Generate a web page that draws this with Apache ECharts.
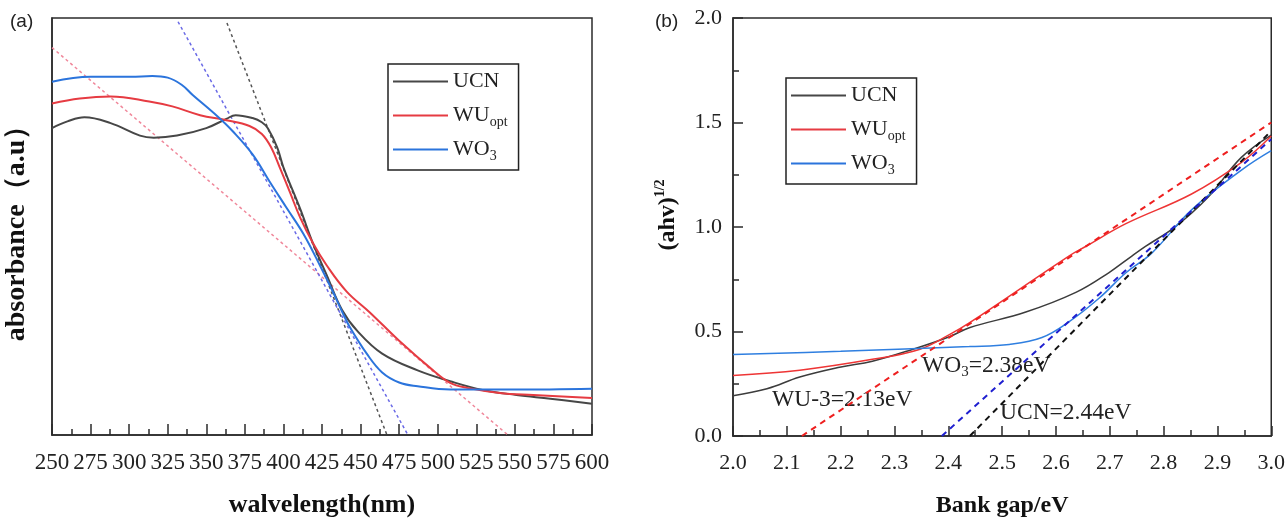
<!DOCTYPE html>
<html>
<head>
<meta charset="utf-8">
<script src="https://cdn.jsdelivr.net/npm/echarts@6.0.0/dist/echarts.min.js"></script>
<style>
  html, body { margin: 0; padding: 0; background: #fff; }
  #chart { width: 1288px; height: 523px; }
</style>
</head>
<body>
<div id="chart"></div>
<script>
// (a) absorbance vs wavelength, arbitrary units 0..1
var absUCN = [[250,0.736],[260,0.752],[271,0.762],[288,0.748],[307,0.718],[316,0.713],[331,0.718],[350,0.736],
  [363,0.758],[369,0.767],[380,0.760],[386,0.750],[390,0.735],[396,0.689],[400,0.642],[411,0.541],[419,0.461],
  [428,0.384],[438,0.300],[448,0.249],[464,0.195],[487,0.155],[508,0.129],[529,0.108],[551,0.096],[573,0.087],
  [600,0.075]];
var absWU = [[250,0.795],[268,0.807],[288,0.812],[313,0.800],[328,0.788],[346,0.767],[363,0.755],[378,0.741],
  [386,0.722],[392,0.690],[398,0.638],[404,0.584],[411,0.520],[419,0.461],[428,0.407],[441,0.344],[456,0.294],
  [475,0.226],[497,0.155],[508,0.125],[519,0.113],[540,0.101],[562,0.096],[600,0.089]];
var absWO3 = [[250,0.847],[275,0.859],[301,0.859],[315,0.861],[325,0.857],[334,0.840],[341,0.816],[357,0.765],
  [367,0.729],[380,0.673],[391,0.608],[402,0.545],[413,0.482],[424,0.404],[432,0.344],[438,0.296],[443,0.259],
  [454,0.195],[464,0.150],[475,0.126],[487,0.117],[508,0.109],[550,0.109],[600,0.111]];
var fitAbsUCN = [[363.4,0.988],[467.1,0]];
var fitAbsWU = [[250,0.929],[545.5,0]];
var fitAbsWO3 = [[331.7,0.991],[480.7,0]];
var wavelengthTicks = [250,275,300,325,350,375,400,425,450,475,500,525,550,575,600];

// (b) Tauc plot
var taucUCN = [[2.0,0.193],[2.063,0.226],[2.124,0.282],[2.198,0.329],[2.259,0.358],[2.333,0.414],[2.402,0.475],
  [2.439,0.518],[2.544,0.593],[2.637,0.687],[2.698,0.781],[2.741,0.861],[2.767,0.908],[2.822,1.002],
  [2.883,1.144],[2.944,1.332],[3.0,1.44]];
var taucWU = [[2.0,0.29],[2.124,0.315],[2.259,0.367],[2.346,0.414],[2.402,0.485],[2.439,0.541],[2.624,0.861],
  [2.656,0.908],[2.730,1.016],[2.852,1.158],[2.944,1.308],[3.0,1.435]];
var taucWO3 = [[2.0,0.39],[2.2,0.405],[2.439,0.428],[2.513,0.438],[2.574,0.471],[2.624,0.546],[2.680,0.659],
  [2.730,0.781],[2.778,0.875],[2.852,1.082],[2.944,1.271],[3.0,1.365]];
var fitTaucUCN = [[2.44,0],[3.0,1.46]];
var fitTaucWU = [[2.128,0],[3.0,1.50]];
var fitTaucWO3 = [[2.388,0],[3.0,1.42]];

var serif = '"Liberation Serif", "Times New Roman", serif';
var axisCol = '#2b2b2b';

var chart = echarts.init(document.getElementById('chart'));

function line(name, data, color, width, idx, dash) {
  return {
    name: name, type: 'line', data: data,
    xAxisIndex: idx, yAxisIndex: idx,
    symbol: 'none',
    smooth: dash ? false : 0.4,
    lineStyle: { color: color, width: width, type: dash || 'solid' },
    itemStyle: { color: color },
    silent: true, animation: false
  };
}

function subName(name) {
  if (name === 'WUopt') return 'WU{sub|opt}';
  if (name === 'WO3') return 'WO{sub|3}';
  return name;
}

var legendBase = {
  orient: 'vertical',
  data: ['UCN', 'WUopt', 'WO3'],
  icon: 'rect', itemWidth: 55, itemHeight: 2, itemGap: 7,
  borderColor: '#222', borderWidth: 1.5, borderRadius: 0,
  padding: [4, 11, 7, 5],
  formatter: subName,
  selectedMode: false,
  textStyle: {
    fontFamily: serif, fontSize: 22, color: '#222', lineHeight: 27,
    rich: { sub: { fontFamily: serif, fontSize: 14, lineHeight: 14, verticalAlign: 'bottom', color: '#222' } }
  }
};

var valueAxisCommon = {
  axisLine: { show: true, onZero: false, lineStyle: { color: axisCol, width: 1.5 } },
  splitLine: { show: false },
  nameTextStyle: { fontFamily: serif, fontSize: 24, fontWeight: 'bold', color: '#111' }
};

var option = {
  backgroundColor: '#fff',
  animation: false,
  grid: [
    { left: 52, top: 18, width: 540, height: 425, show: true, borderColor: axisCol, borderWidth: 1.5 },
    { left: 733, top: 18, width: 540, height: 425, show: true, borderColor: axisCol, borderWidth: 1.5 }
  ],
  legend: [
    Object.assign({}, legendBase, { left: 388, top: 64 }),
    Object.assign({}, legendBase, { left: 786, top: 78 })
  ],
  xAxis: [
    Object.assign({}, valueAxisCommon, {
      type: 'value', gridIndex: 0, min: wavelengthTicks[0], max: wavelengthTicks[wavelengthTicks.length - 1], interval: 25,
      axisTick: { show: true, inside: true, length: 11, lineStyle: { color: axisCol, width: 1.5 } },
      minorTick: { show: true, splitNumber: 2, length: 6, lineStyle: { color: axisCol, width: 1.5 } },
      axisLabel: { margin: 16, fontFamily: serif, fontSize: 23, color: '#222' },
      name: 'walvelength(nm)', nameLocation: 'middle', nameGap: 57,
      nameTextStyle: { fontFamily: serif, fontSize: 26, fontWeight: 'bold', color: '#111' }
    }),
    Object.assign({}, valueAxisCommon, {
      type: 'value', gridIndex: 1, min: 2.0, max: 3.0, interval: 0.1,
      axisTick: { show: true, inside: true, length: 10, lineStyle: { color: axisCol, width: 1.5 } },
      minorTick: { show: true, splitNumber: 2, length: 6, lineStyle: { color: axisCol, width: 1.5 } },
      axisLabel: { margin: 16, fontFamily: serif, fontSize: 22, color: '#222',
        formatter: function (v) { return v.toFixed(1); } },
      name: 'Bank gap/eV', nameLocation: 'middle', nameGap: 58
    })
  ],
  yAxis: [
    Object.assign({}, valueAxisCommon, {
      type: 'value', gridIndex: 0, min: 0, max: 1,
      axisTick: { show: false }, axisLabel: { show: false },
      name: 'absorbance（a.u）', nameLocation: 'middle', nameGap: 21,
      nameTextStyle: { fontFamily: serif, fontSize: 28, fontWeight: 'bold', color: '#111' }
    }),
    Object.assign({}, valueAxisCommon, {
      type: 'value', gridIndex: 1, min: 0, max: 2.0, interval: 0.5,
      axisTick: { show: true, inside: true, length: 10, lineStyle: { color: axisCol, width: 1.5 } },
      minorTick: { show: true, splitNumber: 2, length: 6, lineStyle: { color: axisCol, width: 1.5 } },
      axisLabel: { margin: 11, fontFamily: serif, fontSize: 22, color: '#222',
        formatter: function (v) { return v.toFixed(1); } },
      name: '(ahv){sup|1/2}', nameLocation: 'middle', nameGap: 50,
      nameTextStyle: {
        fontFamily: serif, fontSize: 24, fontWeight: 'bold', color: '#111', lineHeight: 30,
        padding: [0, 0, 0, 24],
        rich: { sup: { fontFamily: serif, fontSize: 14, fontWeight: 'bold', lineHeight: 14, verticalAlign: 'top', color: '#111' } }
      }
    })
  ],
  graphic: [
    { type: 'text', left: 10, top: 12, style: { text: '(a)', font: '19px "Liberation Sans", Arial, sans-serif', fill: '#222' } },
    { type: 'text', left: 655, top: 12, style: { text: '(b)', font: '19px "Liberation Sans", Arial, sans-serif', fill: '#222' } },
    { type: 'text', left: 772, top: 388, style: { text: 'WU-3=2.13eV', fontFamily: serif, fontSize: 23.5, fill: '#222' } },
    { type: 'text', left: 922, top: 352, style: {
        text: 'WO{s|3}=2.38eV', fontFamily: serif, fontSize: 23.5, fill: '#222', lineHeight: 28,
        rich: { s: { fontFamily: serif, fontSize: 15, lineHeight: 15, verticalAlign: 'bottom', fill: '#222' } } } },
    { type: 'text', left: 1000, top: 401, style: { text: 'UCN=2.44eV', fontFamily: serif, fontSize: 23.5, fill: '#222' } }
  ],
  series: [
    line('fitA UCN', fitAbsUCN, '#555555', 1.5, 0, [3, 3]),
    line('fitA WU', fitAbsWU, '#f0879a', 1.5, 0, [3, 3]),
    line('fitA WO3', fitAbsWO3, '#6a6ae6', 1.5, 0, [3, 3]),
    line('UCN', absUCN, '#474747', 2, 0),
    line('WUopt', absWU, '#e63b42', 2, 0),
    line('WO3', absWO3, '#2b74dc', 2, 0),
    line('UCN', taucUCN, '#3c3c3c', 1.5, 1),
    line('WUopt', taucWU, '#ee3535', 1.5, 1),
    line('WO3', taucWO3, '#2f7fe0', 1.5, 1),
    line('fitB UCN', fitTaucUCN, '#111111', 2, 1, [6, 5]),
    line('fitB WU', fitTaucWU, '#ee1f1f', 2, 1, [6, 5]),
    line('fitB WO3', fitTaucWO3, '#1f1fd0', 2, 1, [6, 5])
  ]
};

chart.setOption(option);
</script>
</body>
</html>
